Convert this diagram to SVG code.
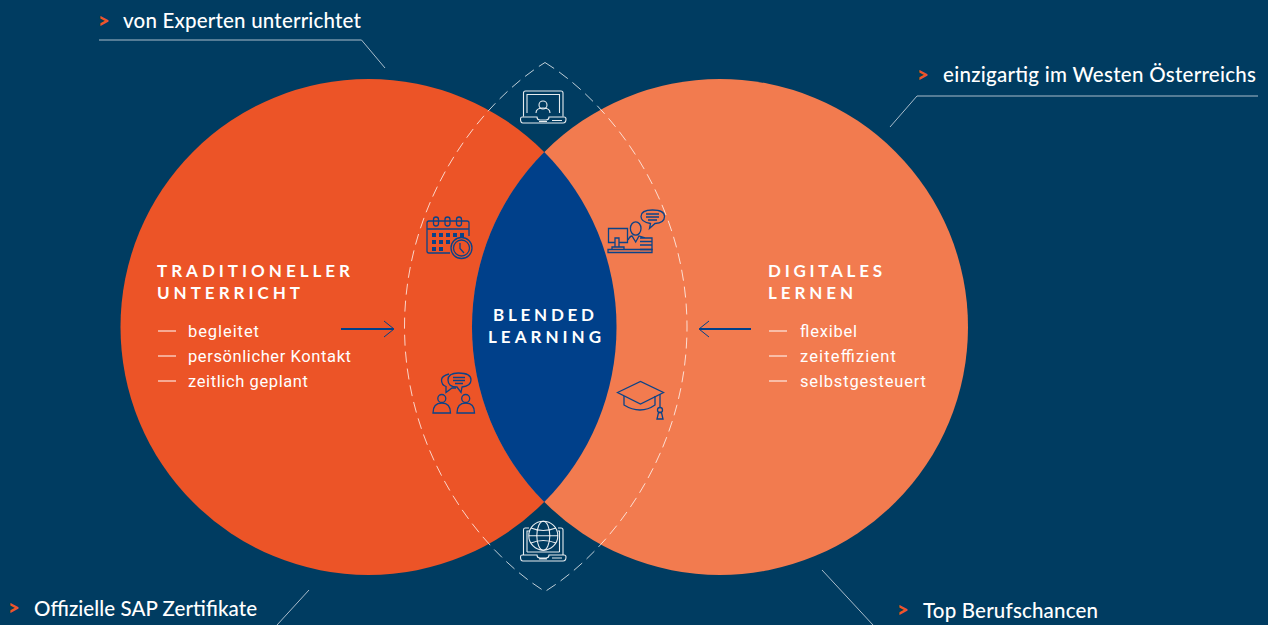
<svg xmlns="http://www.w3.org/2000/svg" width="1268" height="625" viewBox="0 0 1268 625">
<style>
.call{font:500 20.500px "Lato","Liberation Sans",sans-serif;fill:#fff}
.gt{font:900 20px "Lato","Liberation Sans",sans-serif;fill:#ee5528}
.title{font:700 17px "Lato","Liberation Sans",sans-serif;fill:#fff}
.item{font:400 16.500px "Roboto","Liberation Sans",sans-serif;fill:#fff}
.dash{stroke:#fff;stroke-width:1.2;fill:none}
.lead{stroke:#a9bccb;stroke-width:1;fill:none}
.ic{fill:none;stroke:#fff;stroke-width:1.1;opacity:.9}
.id{fill:none;stroke:#0a4389;stroke-width:1.3}
.sq{fill:#0a4389}
.shaft{fill:none;stroke:#00408a;stroke-width:1.800}
.head{fill:none;stroke:#00408a;stroke-width:1}
</style>
<rect width="1268" height="625" fill="#003c61"/>
<g id="circle-left"><circle cx="368.500" cy="327" r="248" fill="#ec5427"/></g>
<g id="circle-right"><circle cx="720" cy="327" r="248" fill="#f27b4f"/></g>
<g id="lens"><path d="M544.250 152A248 248 0 0 1 544.250 502A248 248 0 0 1 544.250 152Z" fill="#00408a"/></g>
<g id="dashed-lens"><path d="M545 62.500C612 104 687 203 687 327C687 451 612 550 545 591.500C478 550 404.500 451 404.500 327C404.500 203 478 104 545 62.500Z" fill="none" stroke="#fff" stroke-opacity=".75" stroke-width="1" stroke-dasharray="11 6"/></g>
<g id="connectors">
<path class="lead" d="M99 40H361.500L385 68"/>
<path class="lead" d="M890 127L917 96H1258"/>
<path class="lead" d="M277 625L309 590"/>
<path class="lead" d="M822 570L873 625"/>
<path class="shaft" d="M341 329H393"/><path class="head" d="M384 321L394 329L384 337"/>
<path class="shaft" d="M751 329H700"/><path class="head" d="M709 321L699 329L709 337"/>
</g>
<g id="callout-experten"><text class="gt" x="98" y="28">&gt;</text><text class="call" x="123" y="28" textLength="238">von Experten unterrichtet</text></g>
<g id="callout-westen"><text class="gt" x="917" y="82">&gt;</text><text class="call" x="943" y="82" textLength="313">einzigartig im Westen Österreichs</text></g>
<g id="callout-sap"><text class="gt" x="8" y="615">&gt;</text><text class="call" x="34" y="616" textLength="223">Offizielle SAP Zertifikate</text></g>
<g id="callout-beruf"><text class="gt" x="897" y="617">&gt;</text><text class="call" x="923" y="618" textLength="175">Top Berufschancen</text></g>
<g id="text-left">
<text class="title" x="157" y="277" textLength="193">TRADITIONELLER</text>
<text class="title" x="157" y="299" textLength="143">UNTERRICHT</text>
<path class="dash" d="M158 331H176M158 356H176M158 381H176"/>
<text class="item" x="188" y="336.500" textLength="71">begleitet</text>
<text class="item" x="188" y="361.500" textLength="163">persönlicher Kontakt</text>
<text class="item" x="188" y="386.500" textLength="120">zeitlich geplant</text>
</g>
<g id="text-right">
<text class="title" x="768" y="277" textLength="114">DIGITALES</text>
<text class="title" x="768" y="299" textLength="85">LERNEN</text>
<path class="dash" d="M769 331H787M769 356H787M769 381H787"/>
<text class="item" x="800" y="336.500" textLength="57">flexibel</text>
<text class="item" x="800" y="361.500" textLength="96">zeiteffizient</text>
<text class="item" x="800" y="386.500" textLength="126">selbstgesteuert</text>
</g>
<g id="text-center">
<text class="title" x="493" y="321" textLength="101">BLENDED</text>
<text class="title" x="488" y="343" textLength="113">LEARNING</text>
</g>
<g id="icon-laptop-person">
<path class="ic" d="M523.500 116.500V93Q523.500 91 525.500 91H561Q563 91 563 93V116.500M527 113V94.500H559.500V113"/>
<circle class="ic" cx="543" cy="105" r="4"/>
<path class="ic" d="M536 113Q536 108 543 108Q550 108 550 113"/>
<path class="ic" d="M537 117H522Q520.500 117 520.500 119Q520.500 123 523 123H563Q566 123 566 119Q566 117 564 117H549Q549 120 546 120H540Q537 120 537 117ZM552 120.500H562M539 121.500H547"/>
</g>
<g id="icon-laptop-globe">
<path class="ic" d="M529 528H525Q523.500 528 523.500 530V555M558 528H561Q563 528 563 530V555M527 552V531H529M559.500 552V531H558M527 552H559.500"/>
<circle class="ic" cx="543.300" cy="535.700" r="14.500"/>
<ellipse class="ic" cx="543.300" cy="535.700" rx="6.500" ry="14.500"/>
<path class="ic" d="M531 528Q543 533 556 528M531 543Q543 538 556 543M529 535.700H558"/>
<path class="ic" d="M537 555H522Q520.500 555 520.500 557Q520.500 561 523 561H563Q566 561 566 557Q566 555 564 555H549Q549 558 546 558H540Q537 558 537 555ZM552 558H562M539 559H547"/>
</g>
<g id="icon-calendar">
<path class="id" d="M450 253H429Q427 253 427 251V223Q427 221 429 221H467Q469 221 469 223V236M427 229H469"/>
<rect class="id" x="433.500" y="217" width="5" height="9" rx="2.500"/><rect class="id" x="445" y="217" width="5" height="9" rx="2.500"/><rect class="id" x="456.500" y="217" width="5" height="9" rx="2.500"/>
<g class="sq"><rect x="432" y="233" width="4" height="4"/><rect x="439" y="233" width="4" height="4"/><rect x="446" y="233" width="4" height="4"/><rect x="453" y="233" width="4" height="4"/><rect x="460" y="233" width="4" height="4"/><rect x="432" y="240" width="4" height="4"/><rect x="439" y="240" width="4" height="4"/><rect x="446" y="240" width="4" height="4"/><rect x="432" y="247" width="4" height="4"/><rect x="439" y="247" width="4" height="4"/></g>
<circle class="id" cx="461.500" cy="248" r="10.500" style="fill:#ec5427"/>
<circle class="id" cx="461.500" cy="248" r="8"/>
<path class="id" d="M460 243V248.500L464 253"/>
</g>
<g id="icon-teacher">
<path class="id" d="M615 242.500H608.500V228.500H627.500V242.500H619M615 238H619V247H615ZM612 247H624V249.500H612ZM608 249.500H652V252.500H608Z"/>
<ellipse class="id" cx="635.700" cy="228.500" rx="5.300" ry="6.700"/>
<path class="id" d="M628 240Q630 236 632 236L635.700 242L639 236L646 238M640 238H652V249.500H640M640 241.500H652M640 245H652"/>
<path class="id" d="M649.500 228.500L650.500 223.500Q641 222 641 216.500Q641 210 652.500 210Q664.500 210 664.500 216.500Q664.500 223 655 223.500Z"/>
<path class="id" d="M646 214H659M646 217H659M648 220H657" stroke-width="1"/>
</g>
<g id="icon-talk">
<circle class="id" cx="441.800" cy="398.500" r="4"/><path class="id" d="M433 413Q433 403 441.800 403Q450.500 403 450.500 413Z"/>
<circle class="id" cx="465.700" cy="398.500" r="4"/><path class="id" d="M457 413Q457 403 465.700 403Q474.500 403 474.500 413Z"/>
<path class="id" d="M449 374Q441.500 376 441.500 380Q441.500 385 446 386.500L446 392.500L452 388H456"/>
<path class="id" d="M461 392.500L462 387Q471 386 471 380Q471 373 458.500 373Q448 373 448 380Q448 387 457 387Z" style="fill:#ec5427"/>
<path class="id" d="M453 377.500H465M453 380.500H465M455 383.500H463" stroke-width="1"/>
</g>
<g id="icon-cap">
<path class="id" d="M617.500 392.500L640.500 381.500L663.500 392.500L640.500 404Z"/>
<path class="id" d="M624 396V405Q632 410 640 410Q648 410 655 405V396"/>
<path class="id" d="M660 394V407" stroke-width="1.600"/>
<circle class="id" cx="660" cy="410" r="2.500"/>
<path class="id" d="M658.500 412.500H661.500L663 419H657Z"/>
</g>
</svg>
